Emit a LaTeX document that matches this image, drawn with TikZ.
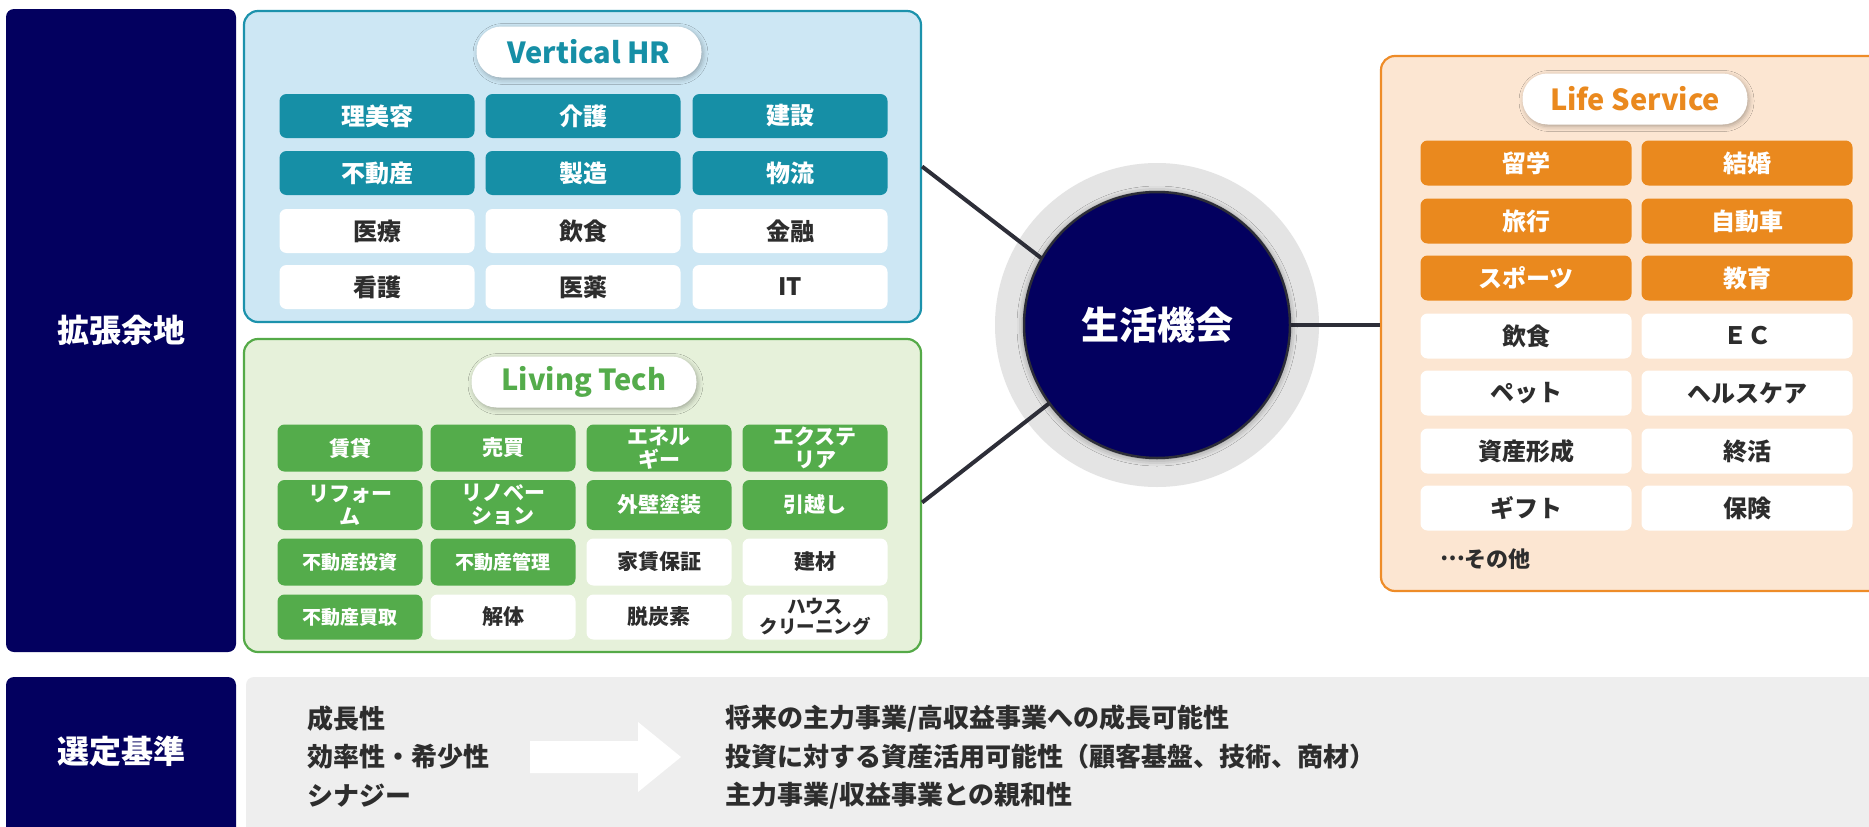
\documentclass[tikz,border=0pt]{standalone}
\usepackage{fontspec}
\setmainfont{Noto Sans CJK JP}
\usetikzlibrary{shadows.blur}
\definecolor{navy}{RGB}{3,0,95}
\definecolor{tealB}{RGB}{28,146,172}
\definecolor{tealL}{RGB}{205,231,244}
\definecolor{tealC}{RGB}{22,143,166}
\definecolor{grnB}{RGB}{85,170,72}
\definecolor{grnL}{RGB}{230,241,218}
\definecolor{grnC}{RGB}{84,172,75}
\definecolor{orgB}{RGB}{238,140,40}
\definecolor{orgL}{RGB}{252,230,210}
\definecolor{orgC}{RGB}{234,137,30}
\definecolor{txtD}{RGB}{45,45,45}
\definecolor{lineC}{RGB}{45,46,56}
\definecolor{ringC}{RGB}{228,228,228}
\definecolor{botG}{RGB}{238,238,238}
\tikzset{
  fs/.style={font=\fontsize{#1}{#1}\selectfont\bfseries},
  bigbox/.style={draw, line width=2.2pt, rounded corners=14pt, inner sep=0pt},
  navybox/.style={fill=navy, rounded corners=8pt, inner sep=0pt, text=white, fs=32},
  cell/.style={rounded corners=7pt, inner sep=0pt, align=center},
  vcell/.style={cell, minimum width=195pt, minimum height=44pt, fs=24},
  lcell/.style={cell, minimum width=145pt, minimum height=47pt, fs=21},
  scell/.style={cell, minimum width=211pt, minimum height=45pt, fs=24},
  col/.style={fill=#1, text=white},
  wht/.style={fill=white, text=txtD},
  pill/.style={fill=white, rounded corners=25pt, minimum width=225pt, minimum height=51pt,
    inner sep=0pt, fs=29, blur shadow={shadow xshift=1.5pt, shadow yshift=-2pt, shadow blur radius=5pt, shadow opacity=30}},
  conn/.style={draw=lineC, line width=4pt},
  btxt/.style={anchor=west, text=txtD, fs=26, inner sep=0pt},
}
\begin{document}
\begin{tikzpicture}[x=1pt,y=-1pt]
\useasboundingbox[fill=white] (0,0) rectangle (1869,827);
% left labels
\node[navybox, minimum width=230pt, minimum height=643pt] (kakucho) at (121,330.5) {拡張余地};
\node[navybox, minimum width=230pt, minimum height=170pt] (sentei) at (121,762) {};
\node[text=white, fs=32] (senteiT) at (121,751) {選定基準};
% bottom grey band
\node[fill=botG, rounded corners=8pt, minimum width=1650pt, minimum height=170pt, inner sep=0pt] (band) at (1071,762) {};
\path[fill=white] (530,741) -- (638,741) -- (638,722) -- (681,757) -- (638,792) -- (638,773) -- (530,773) -- cycle;
\node[btxt] (c1) at (307,719) {成長性};
\node[btxt] (c2) at (307,757) {効率性・希少性};
\node[btxt] (c3) at (307,796) {シナジー};
\node[btxt] (d1) at (725,719) {将来の主力事業/高収益事業への成長可能性};
\node[btxt] (d2) at (725,757) {投資に対する資産活用可能性（顧客基盤、技術、商材）};
\node[btxt] (d3) at (725,796) {主力事業/収益事業との親和性};
% big boxes
\node[bigbox, draw=tealB, fill=tealL, minimum width=677pt, minimum height=311pt] (vhr) at (582.5,166.5) {};
\node[bigbox, draw=grnB, fill=grnL, minimum width=677pt, minimum height=313pt] (lt) at (582.5,495.5) {};
\node[bigbox, draw=orgB, fill=orgL, minimum width=520pt, minimum height=535pt] (ls) at (1641,323.5) {};
% centre
\node[circle, fill=ringC, minimum size=324pt, inner sep=0pt] (ring) at (1157,325) {};
\node[circle, minimum size=266pt, inner sep=0pt] (circ) at (1157,325) {};
\draw[conn] (vhr.east) -- (circ.150);
\draw[conn] ([yshift=-7pt]lt.east) -- (circ.216);
\draw[conn] (circ.east) -- (circ.east -| ls.west);
\node[circle, fill=navy, draw=lineC, line width=2.5pt, minimum size=266pt, inner sep=0pt, text=white, fs=38,
  blur shadow={shadow xshift=0pt, shadow yshift=-1pt, shadow blur radius=7pt, shadow opacity=45}] (circF) at (1157,325) {生活機会};
% pills
\node[pill, text=tealC] (pv) at (589,52) {Vertical HR};
\node[pill, text=grnC] (pl) at (584,382) {Living Tech};
\node[pill, text=orgC] (ps) at (1635,99) {Life Service};
% Vertical HR cells
\node[vcell, col=tealC] (v11) at (377,116) {理美容};
\node[vcell, col=tealC] (v12) at (583,116) {介護};
\node[vcell, col=tealC] (v13) at (790,116) {建設};
\node[vcell, col=tealC] (v21) at (377,173) {不動産};
\node[vcell, col=tealC] (v22) at (583,173) {製造};
\node[vcell, col=tealC] (v23) at (790,173) {物流};
\node[vcell, wht] (v31) at (377,231) {医療};
\node[vcell, wht] (v32) at (583,231) {飲食};
\node[vcell, wht] (v33) at (790,231) {金融};
\node[vcell, wht] (v41) at (377,287) {看護};
\node[vcell, wht] (v42) at (583,287) {医薬};
\node[vcell, wht] (v43) at (790,287) {IT};
% Living Tech cells
\node[lcell, col=grnC] (l11) at (350,448) {賃貸};
\node[lcell, col=grnC] (l12) at (503,448) {売買};
\node[lcell, col=grnC] (l13) at (659,448) {エネル\\[2pt]ギー};
\node[lcell, col=grnC] (l14) at (815,448) {エクステ\\[2pt]リア};
\node[lcell, col=grnC, minimum height=50pt] (l21) at (350,505) {リフォー\\[2pt]ム};
\node[lcell, col=grnC, minimum height=50pt] (l22) at (503,505) {リノベー\\[2pt]ション};
\node[lcell, col=grnC, minimum height=50pt] (l23) at (659,505) {外壁塗装};
\node[lcell, col=grnC, minimum height=50pt] (l24) at (815,505) {引越し};
\node[lcell, col=grnC, fs=19] (l31) at (350,562) {不動産投資};
\node[lcell, col=grnC, fs=19] (l32) at (503,562) {不動産管理};
\node[lcell, wht] (l33) at (659,562) {家賃保証};
\node[lcell, wht] (l34) at (815,562) {建材};
\node[lcell, col=grnC, fs=19, minimum height=45pt] (l41) at (350,617) {不動産買取};
\node[lcell, wht, minimum height=45pt] (l42) at (503,617) {解体};
\node[lcell, wht, minimum height=45pt] (l43) at (659,617) {脱炭素};
\node[lcell, wht, minimum height=45pt, fs=18.5] (l44) at (815,617) {ハウス\\[2pt]クリーニング};
% Life Service cells
\node[scell, col=orgC] (s11) at (1526,163) {留学};
\node[scell, col=orgC] (s12) at (1747,163) {結婚};
\node[scell, col=orgC] (s21) at (1526,221) {旅行};
\node[scell, col=orgC] (s22) at (1747,221) {自動車};
\node[scell, col=orgC] (s31) at (1526,278) {スポーツ};
\node[scell, col=orgC] (s32) at (1747,278) {教育};
\node[scell, wht] (s41) at (1526,336) {飲食};
\node[scell, wht] (s42) at (1747,336) {ＥＣ};
\node[scell, wht] (s51) at (1526,393) {ペット};
\node[scell, wht] (s52) at (1747,393) {ヘルスケア};
\node[scell, wht] (s61) at (1526,451) {資産形成};
\node[scell, wht] (s62) at (1747,451) {終活};
\node[scell, wht] (s71) at (1526,508) {ギフト};
\node[scell, wht] (s72) at (1747,508) {保険};
\node[anchor=west, text=txtD, fs=22, inner sep=0pt] (etc) at (1440,559) {\raisebox{0.32em}{…}その他};
\end{tikzpicture}
\end{document}
